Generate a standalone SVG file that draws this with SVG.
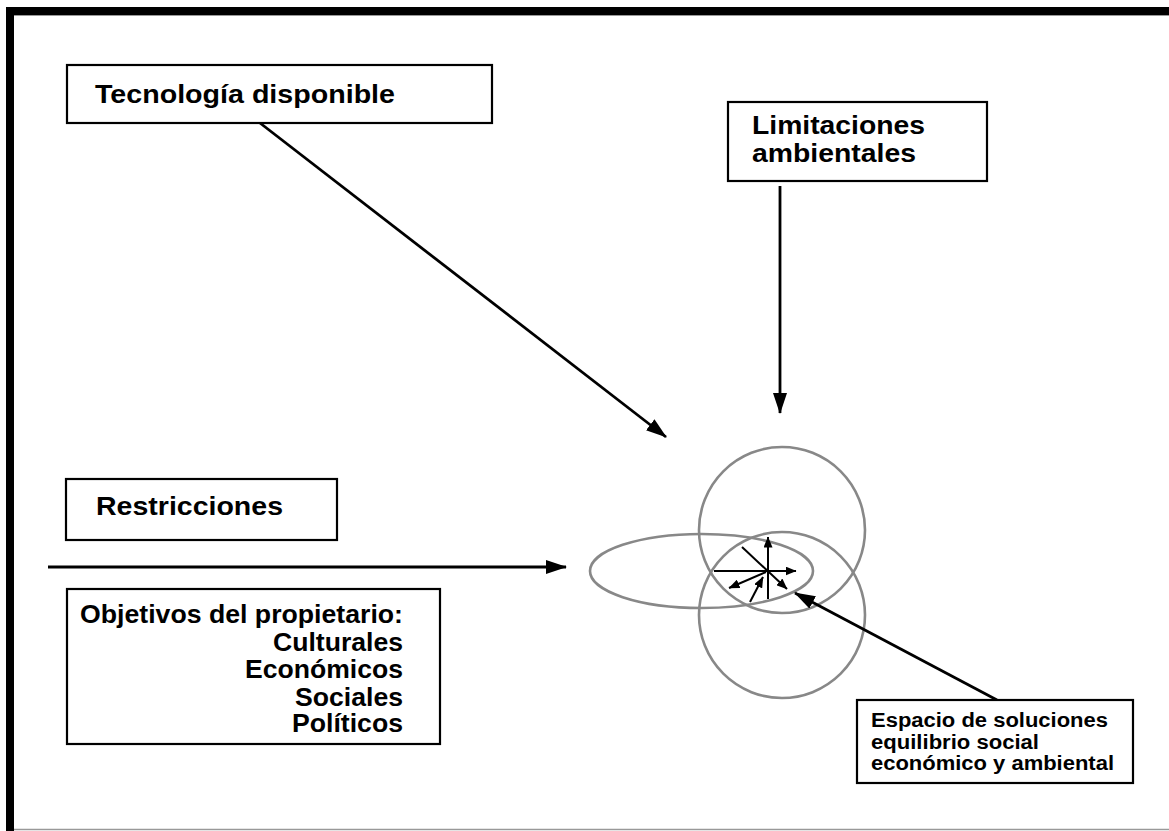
<svg xmlns="http://www.w3.org/2000/svg" width="1169" height="831" viewBox="0 0 1169 831">
<style>
.box{fill:#fff;stroke:#000;stroke-width:2.2}
.lbl{font-family:"Liberation Sans",Arial,sans-serif;font-weight:bold;fill:#000}
.big{font-size:25px}
.lim{font-size:26px}
.sm{font-size:19.5px}
.conn{stroke:#000;stroke-width:2.8;fill:none}
.thin{stroke:#000;stroke-width:2;fill:none}
.ring{stroke:#888;stroke-width:2.6;fill:none}
</style>
<defs>
<marker id="ah" markerWidth="21" markerHeight="14" refX="20" refY="7" orient="auto" markerUnits="userSpaceOnUse">
<path d="M0,0 L21,7 L0,14 Z" fill="#000"/>
</marker>
<marker id="ahs" markerWidth="11" markerHeight="9" refX="10.5" refY="4.5" orient="auto" markerUnits="userSpaceOnUse">
<path d="M0,0 L11,4.5 L0,9 Z" fill="#000"/>
</marker>
</defs>
<rect x="0" y="0" width="1169" height="831" fill="#fff"/>
<g id="frame">
<rect x="6" y="7" width="1163" height="8" fill="#000"/>
<line x1="6" y1="15.5" x2="1169" y2="15.5" stroke="#999" stroke-width="1"/>
<rect x="6" y="7" width="8" height="824" fill="#000"/>
<line x1="14" y1="829.5" x2="1169" y2="829.5" stroke="#999" stroke-width="1.5"/>
</g>
<g id="circles">
<circle class="ring" cx="782" cy="530" r="83"/>
<circle class="ring" cx="782" cy="615" r="83"/>
<ellipse class="ring" cx="701.5" cy="571" rx="111.5" ry="37"/>
</g>
<g id="connectors">
<line class="conn" x1="260" y1="123" x2="666" y2="437" marker-end="url(#ah)"/>
<line class="conn" x1="780" y1="186" x2="780" y2="413" marker-end="url(#ah)"/>
<line class="conn" x1="48" y1="567" x2="566" y2="567" marker-end="url(#ah)"/>
<line class="conn" x1="997" y1="700" x2="795" y2="593" marker-end="url(#ah)"/>
<line class="thin" x1="768" y1="599" x2="768" y2="537" marker-end="url(#ahs)"/>
<line class="thin" x1="714" y1="571" x2="796" y2="571" marker-end="url(#ahs)"/>
<line class="thin" x1="742" y1="547" x2="787" y2="589" marker-end="url(#ahs)"/>
<line class="thin" x1="766" y1="572" x2="729" y2="588" marker-end="url(#ahs)"/>
<line class="thin" x1="750" y1="602" x2="763" y2="577" marker-end="url(#ahs)"/>
</g>
<g id="tecnologia">
<rect class="box" x="67" y="65" width="425" height="58"/>
<text class="lbl big" x="95" y="103" textLength="300" lengthAdjust="spacingAndGlyphs">Tecnología disponible</text>
</g>
<g id="limitaciones">
<rect class="box" x="728" y="102" width="259" height="79"/>
<text class="lbl lim" x="752" y="134" textLength="173" lengthAdjust="spacingAndGlyphs">Limitaciones</text>
<text class="lbl lim" x="752" y="162" textLength="164" lengthAdjust="spacingAndGlyphs">ambientales</text>
</g>
<g id="restricciones">
<rect class="box" x="66" y="479" width="271" height="61"/>
<text class="lbl big" x="96" y="515" textLength="187" lengthAdjust="spacingAndGlyphs">Restricciones</text>
</g>
<g id="objetivos">
<rect class="box" x="67" y="589" width="373" height="155"/>
<text class="lbl big" x="80" y="623" textLength="323" lengthAdjust="spacingAndGlyphs">Objetivos del propietario:</text>
<text class="lbl big" x="273" y="651" textLength="130" lengthAdjust="spacingAndGlyphs">Culturales</text>
<text class="lbl big" x="245" y="678" textLength="158" lengthAdjust="spacingAndGlyphs">Económicos</text>
<text class="lbl big" x="295" y="706" textLength="108" lengthAdjust="spacingAndGlyphs">Sociales</text>
<text class="lbl big" x="292" y="732" textLength="111" lengthAdjust="spacingAndGlyphs">Políticos</text>
</g>
<g id="espacio">
<rect class="box" x="857" y="700" width="276" height="83"/>
<text class="lbl sm" x="871" y="727" textLength="237" lengthAdjust="spacingAndGlyphs">Espacio de soluciones</text>
<text class="lbl sm" x="871" y="749" textLength="168" lengthAdjust="spacingAndGlyphs">equilibrio social</text>
<text class="lbl sm" x="871" y="770" textLength="243" lengthAdjust="spacingAndGlyphs">económico y ambiental</text>
</g>
</svg>
